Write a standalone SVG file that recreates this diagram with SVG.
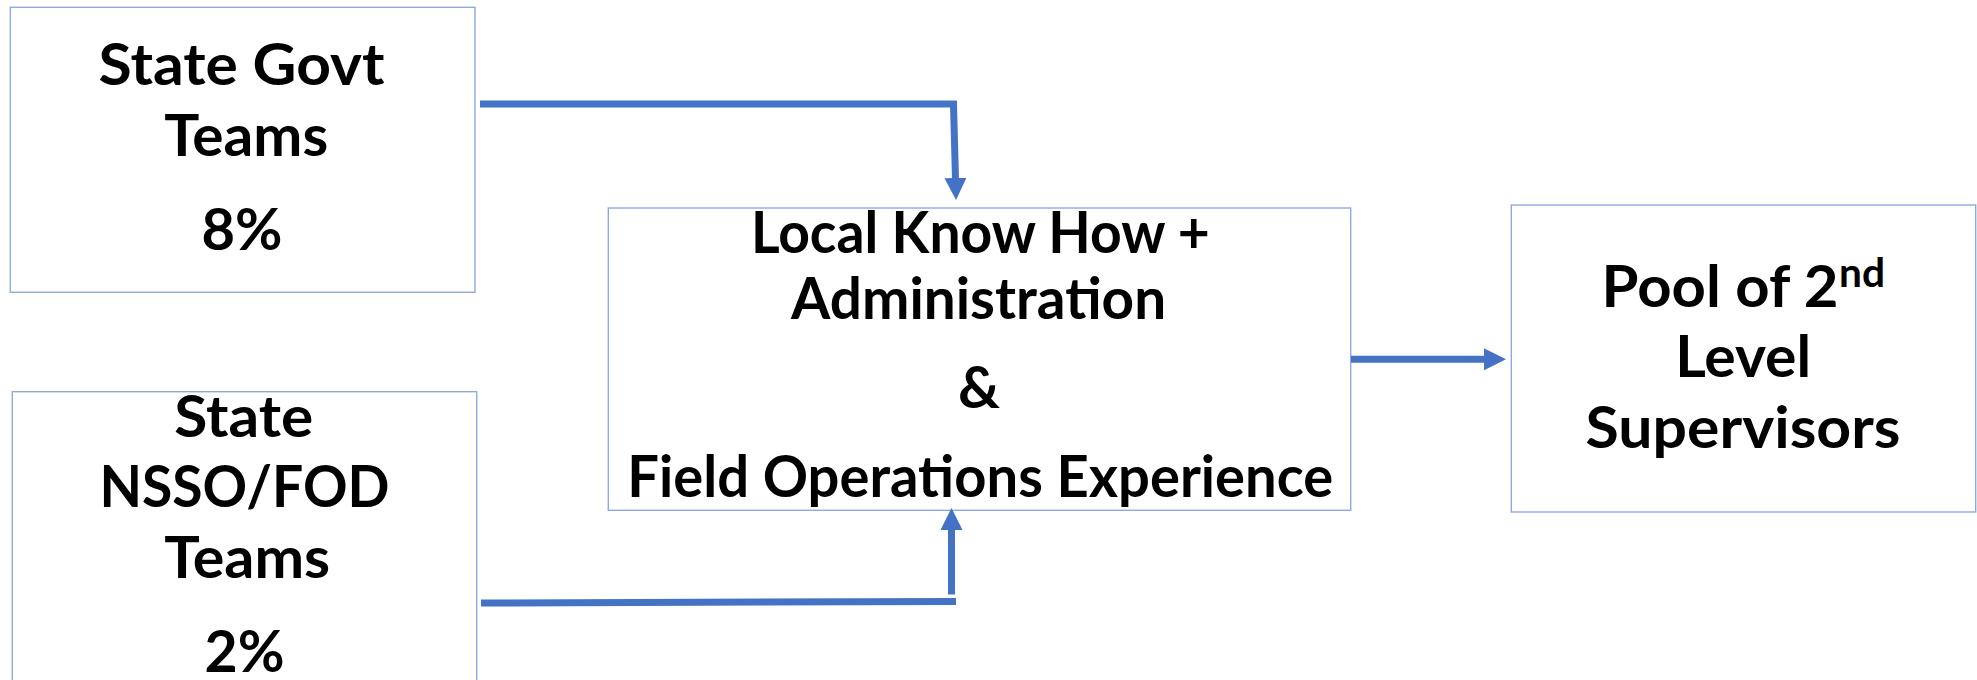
<svg xmlns="http://www.w3.org/2000/svg" width="1977" height="680" viewBox="0 0 1977 680">
  <defs>
    <style>
      .box { fill: #ffffff; stroke: #8FAADC; stroke-width: 1.4; }
      .t { font-family: Lato, "Liberation Sans", sans-serif; font-weight: 700; font-size: 58px; fill: #000000; }
      .sup { font-size: 40px; }
      .conn { fill: none; stroke: #4472C4; stroke-width: 7; stroke-linejoin: miter; }
    </style>
    <marker id="arrow" markerUnits="userSpaceOnUse" viewBox="0 0 22 22" markerWidth="22" markerHeight="22" refX="1" refY="11" orient="auto">
      <path d="M0,0 L22,11 L0,22 Z" fill="#4472C4"/>
    </marker>
  </defs>
  <rect width="1977" height="680" fill="#ffffff"/>

  <g id="node-state-govt">
    <rect class="box" x="10.3" y="7.3" width="464.7" height="285"/>
    <text class="t" x="98.5" y="85" textLength="286" lengthAdjust="spacingAndGlyphs">State Govt</text>
    <text class="t" x="164.2" y="156" textLength="164" lengthAdjust="spacingAndGlyphs">Teams</text>
    <text class="t" x="201.5" y="250" textLength="81" lengthAdjust="spacingAndGlyphs">8%</text>
  </g>

  <g id="node-state-nsso">
    <rect class="box" x="12.3" y="391.7" width="464.4" height="310"/>
    <text class="t" x="174.2" y="436.7" textLength="139" lengthAdjust="spacingAndGlyphs">State</text>
    <text class="t" x="99.5" y="507.3" textLength="290" lengthAdjust="spacingAndGlyphs">NSSO/FOD</text>
    <text class="t" x="164.2" y="578.3" textLength="166" lengthAdjust="spacingAndGlyphs">Teams</text>
    <text class="t" x="204.5" y="671.7" textLength="80" lengthAdjust="spacingAndGlyphs">2%</text>
  </g>

  <g id="node-local-know-how">
    <rect class="box" x="608.3" y="208" width="742.4" height="302.3"/>
    <text class="t" x="750.9" y="253" textLength="459" lengthAdjust="spacingAndGlyphs">Local Know How +</text>
    <text class="t" x="791.1" y="319" textLength="375" lengthAdjust="spacingAndGlyphs">Administration</text>
    <text class="t" x="957.9" y="407.5" textLength="42" lengthAdjust="spacingAndGlyphs">&amp;</text>
    <text class="t" x="627.3" y="497" textLength="706" lengthAdjust="spacingAndGlyphs">Field Operations Experience</text>
  </g>

  <g id="node-pool">
    <rect class="box" x="1511.3" y="205" width="464.4" height="307"/>
    <text class="t" x="1601.5" y="306.7" textLength="237" lengthAdjust="spacingAndGlyphs">Pool of 2</text>
    <text class="t sup" x="1839" y="286.7" textLength="46" lengthAdjust="spacingAndGlyphs">nd</text>
    <text class="t" x="1675.2" y="376.7" textLength="136" lengthAdjust="spacingAndGlyphs">Level</text>
    <text class="t" x="1585.5" y="448" textLength="315" lengthAdjust="spacingAndGlyphs">Supervisors</text>
  </g>

  <g id="connectors">
    <path class="conn" d="M480,104 L953.5,104 L955.5,179" marker-end="url(#arrow)"/>
    <path class="conn" d="M481,603 L956,601.5"/>
    <path class="conn" d="M951.5,594.5 L951.5,529" marker-end="url(#arrow)"/>
    <path class="conn" d="M1351,359.3 L1485,359.3" marker-end="url(#arrow)"/>
  </g>
</svg>
